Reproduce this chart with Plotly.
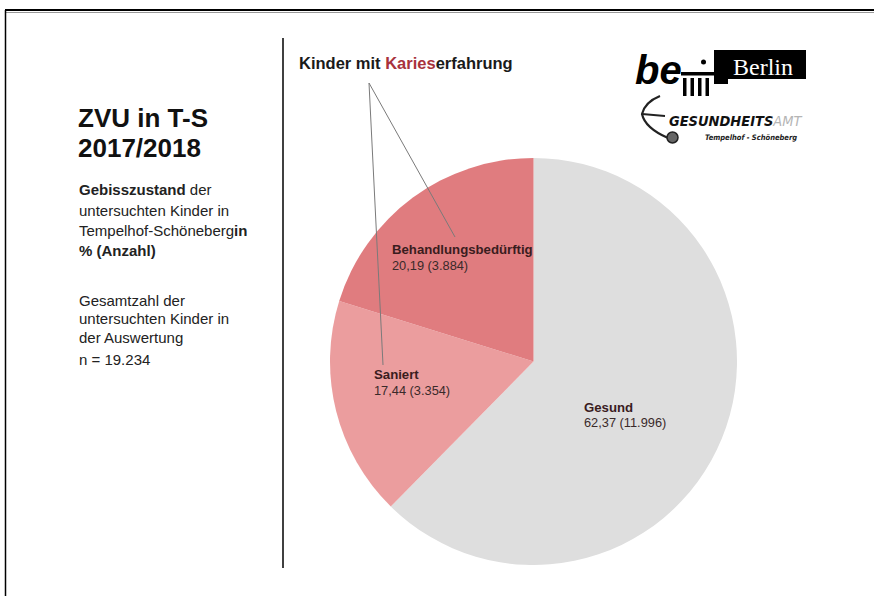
import plotly.graph_objects as go

W, H = 874, 596

# ---- data ----
categories = ["Gesund", "Saniert", "Behandlungsbedürftig"]
percent = [62.37, 17.44, 20.19]
counts = [11996, 3354, 3884]
colors = ["#dedede", "#eb9d9e", "#e07c7f"]

title_lines = ["ZVU in T-S", "2017/2018"]
desc_lines = ["<b>Gebisszustand</b> der", "untersuchten Kinder in",
              "Tempelhof-Schöneberg<b>in</b>", "<b>% (Anzahl)</b>"]
total_lines = ["Gesamtzahl der", "untersuchten Kinder in", "der Auswertung", "n = 19.234"]


def px(x):
    return x / W


def py(y):
    return 1 - y / H


def fmt_count(n):
    return f"{n:,}".replace(",", ".")


def fmt_pct(p):
    return f"{p:.2f}".replace(".", ",")


fig = go.Figure()
fig.add_trace(go.Pie(
    labels=categories, values=counts, sort=False, direction="clockwise", rotation=0,
    marker=dict(colors=colors, line=dict(width=0)),
    textinfo="none", hoverinfo="label+percent", showlegend=False,
    domain=dict(x=[px(330), px(737)], y=[py(565), py(158)]),
))

FONT = "Liberation Sans, Arial, sans-serif"
ann = []


def text(x, y, s, size, color="#1a1a1a", family=FONT, anchor="left", yanchor="middle"):
    ann.append(dict(x=px(x), y=py(y), xref="paper", yref="paper", text=s, showarrow=False,
                    xanchor=anchor, yanchor=yanchor,
                    font=dict(size=size, color=color, family=family)))


# left text block
text(76, 118, f"<b>{title_lines[0]}</b>", 26, "#111")
text(76, 148, f"<b>{title_lines[1]}</b>", 26, "#111")
for i, s in enumerate(desc_lines):
    text(77, 190 + i * 20, s, 15, "#222")
for i, s in enumerate(total_lines[:3]):
    text(77, 300 + i * 18.7, s, 15, "#222")
text(77, 359, total_lines[3], 15, "#222")

# header above pie
text(297, 63, "<b>Kinder mit <span style='color:#a8323c'>Karies</span>erfahrung</b>", 16.5, "#1a1a1a")

# slice labels
LBL = "Liberation Sans, Arial, sans-serif"
label_pos = {"Behandlungsbedürftig": (390, 249), "Saniert": (372, 374), "Gesund": (582, 407)}
for cat, p, n in zip(categories, percent, counts):
    x, y = label_pos[cat]
    text(x, y, f"<b>{cat}</b>", 13.2, "#3a1c1e", LBL)
    text(x, y + 16, f"{fmt_pct(p)} ({fmt_count(n)})", 12.8, "#3a2a2a", LBL)

# logo texts
text(633, 70, "<b><i>be</i></b>", 40, "#000")
text(731, 67, "Berlin", 24, "#fff", "Liberation Serif, Times New Roman, serif")
NARROW = "Liberation Sans Narrow, Arial Narrow, DejaVu Sans Condensed, sans-serif"
text(667, 121, "<b><i>GESUNDHEITS</i></b><span style='color:#b5b5b5'><i>AMT</i></span>",
     14.5, "#111", NARROW)
text(799, 138, "<b><i>Tempelhof - Schöneberg</i></b>", 7.5, "#222", NARROW, anchor="right")

shapes = []


def line(x0, y0, x1, y1, color="#000", width=1.5):
    shapes.append(dict(type="line", xref="paper", yref="paper", x0=px(x0), y0=py(y0),
                       x1=px(x1), y1=py(y1), line=dict(color=color, width=width)))


def rect(x0, y0, x1, y1, color="#000"):
    shapes.append(dict(type="rect", xref="paper", yref="paper", x0=px(x0), y0=py(y0),
                       x1=px(x1), y1=py(y1), fillcolor=color, line=dict(width=0)))


# frame
line(5, 10, W, 10, "#000", 2)
line(5, 12.5, W, 12.5, "#999", 1)
line(5.5, 10, 5.5, H, "#000", 1.5)
# separator
line(283, 38, 283, 568, "#000", 1.5)
# leader lines
line(369, 83, 455, 237, "#7a7a7a", 1)
line(369, 83, 383, 365, "#7a7a7a", 1)

# Berlin logo block
rect(714, 50, 806, 79)
rect(714, 79, 728, 84)
rect(681, 72, 714, 75.5)
for bx in (683, 690.5, 698, 705.5):
    rect(bx, 78, bx + 3.5, 96)
shapes.append(dict(type="circle", xref="paper", yref="paper", x0=px(701), y0=py(64.5),
                   x1=px(706), y1=py(59.5), fillcolor="#000", line=dict(width=0)))

# stethoscope
path_pts = [(660, 96), (645, 102), (642, 114), (645, 128), (657, 134), (668, 138)]
d = "M {} {}".format(px(path_pts[0][0]), py(path_pts[0][1]))
d += " Q {} {} {} {}".format(px(path_pts[1][0]), py(path_pts[1][1]), px(path_pts[2][0]), py(path_pts[2][1]))
d += " Q {} {} {} {}".format(px(path_pts[3][0]), py(path_pts[3][1]), px(path_pts[5][0]), py(path_pts[5][1]))
shapes.append(dict(type="path", xref="paper", yref="paper", path=d, line=dict(color="#222", width=2.2)))
line(642, 114, 665, 116, "#222", 1.8)
shapes.append(dict(type="circle", xref="paper", yref="paper", x0=px(667), y0=py(143),
                   x1=px(678), y1=py(132), fillcolor="#666", line=dict(color="#222", width=1.5)))

fig.update_layout(
    width=W, height=H, margin=dict(l=0, r=0, t=0, b=0),
    paper_bgcolor="#ffffff", plot_bgcolor="#ffffff",
    annotations=ann, shapes=shapes,
)
fig.write_html("out.html", config={"displayModeBar": False},
               post_script="document.body.style.margin='0';")
